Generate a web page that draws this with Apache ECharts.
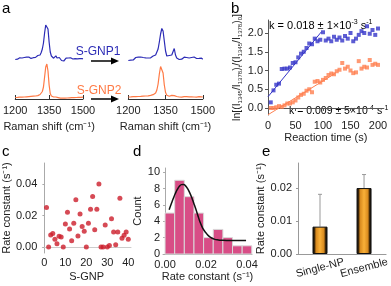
<!DOCTYPE html>
<html><head><meta charset="utf-8">
<script src="https://cdn.jsdelivr.net/npm/echarts@6/dist/echarts.min.js"></script>
<style>html,body{margin:0;padding:0;background:#fff}#c{width:391px;height:286px}</style>
</head><body><div id="c"></div>
<script>
// ---------- Panel a: Raman spectra ----------
const ramanShift = [1200,1205,1210,1215,1220,1225,1230,1235,1240,1245,1250,1255,1260,1265,1270,1275,1280,1285,1290,1295,1300,1305,1310,1315,1320,1325,1330,1335,1340,1345,1350,1355,1360,1365,1370,1375,1380,1385,1390,1395,1400,1405,1410,1415,1420,1425,1430,1435,1440,1445,1450,1455,1460,1465,1470,1475,1480,1485,1490,1495,1500];
const gnp1Before = [39.5,40.5,39.8,40.6,41.2,40.3,41.0,40.2,41.5,40.8,41.8,41.0,42.0,41.2,40.6,41.9,41.3,42.4,41.6,42.8,43.5,42.6,44.0,46.5,50.0,56.0,66.0,74.0,76.0,70.0,57.0,47.0,43.0,41.5,40.8,42.5,43.2,41.0,40.2,41.5,40.0,38.5,37.5,38.0,39.6,40.8,40.2,41.0,40.4,41.2,40.6,40.0,41.0,40.3,40.9,40.1,40.7,40.3,41.0,40.5,40.2];
const gnp2Before = [1.5,2.0,1.6,2.2,1.8,2.4,1.9,2.5,2.0,2.6,2.2,2.8,2.4,3.0,2.6,3.2,2.8,3.4,3.0,3.6,3.4,4.0,4.5,5.5,7.5,12.0,22.0,32.0,35.0,28.0,14.0,5.5,3.0,2.4,2.0,2.3,2.0,1.6,1.4,1.0,0.8,0.5,1.0,0.6,0.9,1.4,1.0,1.5,1.2,1.6,1.3,1.8,1.4,1.9,1.5,2.0,1.6,2.1,1.7,2.2,1.8];
const gnp1After = [38.5,39.5,38.8,40.2,39.0,40.5,41.5,40.2,41.8,40.5,42.0,40.8,41.5,40.0,41.2,42.5,41.0,42.0,41.2,42.5,43.0,42.2,44.0,46.0,50.0,57.0,65.0,70.5,68.0,58.0,48.0,43.0,41.0,43.5,42.0,44.0,46.0,50.5,44.0,41.0,40.0,39.5,40.5,39.8,40.8,41.8,42.5,41.5,42.2,41.0,40.5,41.5,40.8,42.0,41.2,40.5,41.8,40.6,41.5,40.8,39.8];
const gnp2After = [2.0,2.4,2.1,2.6,2.3,2.7,2.4,2.8,2.5,2.9,2.6,3.0,2.8,3.1,3.0,3.3,3.2,3.5,3.6,4.0,4.3,5.0,6.0,9.0,15.0,25.0,32.5,33.5,26.0,14.0,6.5,3.8,3.0,2.8,3.0,3.6,4.2,3.4,2.8,2.5,2.2,2.0,2.2,1.9,2.1,2.4,2.6,2.3,2.5,2.2,2.4,2.1,2.3,2.0,2.2,1.9,2.1,2.3,2.0,2.2,2.0];
const ramanTicks = [1200,1350,1500];

// ---------- Panel b: kinetics ----------
const reactionTime = [5,10,15,20,25,30,35,40,45,50,55,60,65,70,75,80,85,90,95,100,105,110,115,120,125,130,135,140,145,150,155,160,165,170,175,180,185,190,195,200];
const lnRatio1 = [0.15,0.47,0.62,0.65,1.04,1.05,1.05,1.08,1.2,1.22,1.35,1.45,1.5,1.6,1.72,1.7,1.85,1.78,1.82,2.02,1.8,1.85,1.78,1.9,1.82,1.88,1.8,1.92,1.85,2.0,1.78,1.85,1.95,2.05,2.0,2.18,1.98,2.08,1.95,2.12];
const lnRatio2 = [0.0,0.0,0.02,0.05,0.03,0.07,0.12,0.12,0.15,0.2,0.28,0.35,0.38,0.46,0.5,0.42,0.7,0.72,0.68,0.75,0.8,0.88,0.92,0.9,0.98,1.02,1.2,1.05,1.1,1.0,0.93,0.95,1.25,1.05,1.1,1.08,1.28,1.15,1.18,1.15];
const fit1 = [[0,0.30],[97,2.03]];
const fit2 = [[0,-0.18],[122,0.92]];
const timeTicks = [0,50,100,150,200];
const lnTicks = [0,0.5,1,1.5,2];

// ---------- Panel c: rate constants per S-GNP ----------
const gnpIndex = [1,2,3,4,5,6,7,8,9,10,11,12,13,14,15,16,17,18,19,20,21,22,23,24,25,26,27,28,29,30,31,32,33,34,35,36,37,38,39,40];
const rateConst = [0.025,0.0,0.0076,0.0086,0.005,0.002,0.0068,0.0064,0.0,0.0146,0.022,0.0115,0.004,0.015,0.030,0.007,0.021,0.013,0.010,0.0,0.015,0.024,0.032,0.011,0.024,0.040,0.0,0.0,0.014,0.0,0.001,0.018,0.0095,0.0015,0.0095,0.031,0.0055,0.0075,0.0095,0.005];
const gnpTicks = [0,10,20,30,40];
const rateTicksC = [0,0.02,0.04];

// ---------- Panel d: histogram ----------
const binStart = [0,0.0047,0.0094,0.0141,0.0188,0.0235,0.0282,0.0329,0.0376];
const binEnd = [0.0047,0.0094,0.0141,0.0188,0.0235,0.0282,0.0329,0.0376,0.0423];
const binCount = [5,9,7,5,2,3,2,1,1];
const fitX = [0.002,0.003,0.004,0.005,0.006,0.007,0.008,0.009,0.010,0.011,0.012,0.013,0.014,0.015,0.016,0.017,0.018,0.019,0.020,0.022,0.024,0.026,0.028,0.030,0.035,0.0395];
const fitY = [5.4,6.1,6.77,7.38,7.89,8.27,8.47,8.49,8.32,7.98,7.49,6.9,6.2,5.5,4.7,3.95,3.35,2.9,2.55,2.05,1.82,1.72,1.68,1.66,1.65,1.65];
const rateTicksD = [0,0.02,0.04];

// ---------- Panel e: comparison ----------
const methods = ['Single-NP','Ensemble'];
const methodRate = [0.0083,0.0200];
const methodErrTop = [0.0181,0.0241];
const rateTicksE = [0,0.01,0.02];

const FONT = "'Liberation Sans', Arial, sans-serif";
const BLUE = '#2c2cb6', ORANGE = '#ff7a45';
const BBLUE = '#3434c8', BORANGE = '#ff8050';
const T = {fontFamily: FONT, fontSize: 11, color: '#222'};

function specX(idx){
  return {gridIndex: idx, type:'value', min:1200, max:1500, interval:150,
    axisLine:{lineStyle:{color:'#333'}}, axisTick:{inside:true, length:4, lineStyle:{color:'#333'}},
    axisLabel:Object.assign({margin:6, customValues: ramanTicks, formatter:v=>String(v)}, T), splitLine:{show:false},
    name:'Raman shift (cm⁻¹)', nameLocation:'middle', nameGap:22, nameTextStyle:T};
}
function specY(idx){ return {gridIndex: idx, type:'value', min:0, max:79, show:false}; }
function zip(a,b){ return a.map((v,i)=>[v,b[i]]); }
function richK(size, color){
  return {
    r:{fontFamily:FONT, fontSize:size, color:color, lineHeight:size+3},
    sup:{fontFamily:FONT, fontSize:Math.round(size*0.65), color:color, lineHeight:size*0.65, verticalAlign:'top'}
  };
}

const chart = echarts.init(document.getElementById('c'), null, {renderer:'canvas'});
chart.setOption({
  backgroundColor:'#fff',
  animation:false,
  textStyle:{fontFamily: FONT},
  grid:[
    {left:8.5, top:20, width:74.5, height:79},
    {left:128.3, top:20, width:74.5, height:79},
    {left:268, top:20, width:115.5, height:95},
    {left:40, top:163, width:91, height:90},
    {left:163, top:168, width:89, height:86},
    {left:298, top:163, width:92, height:91}
  ],
  xAxis:[
    specX(0), specX(1),
    {gridIndex:2, type:'value', min:0, max:210,
      axisLine:{lineStyle:{color:'#555'}}, axisTick:{length:3, lineStyle:{color:'#555'}, customValues: timeTicks},
      axisLabel:Object.assign({margin:5, customValues: timeTicks}, T), splitLine:{show:false},
      name:'Reaction time (s)', nameLocation:'middle', nameGap:17, nameTextStyle:T},
    {gridIndex:3, type:'value', min:-1, max:41.3,
      axisLine:{lineStyle:{color:'#ccc'}}, axisTick:{show:false},
      axisLabel:Object.assign({margin:4, customValues: gnpTicks}, T), splitLine:{show:false},
      name:'S-GNP', nameLocation:'middle', nameGap:18, nameTextStyle:T},
    {gridIndex:4, type:'value', min:-0.001, max:0.0424,
      axisLine:{lineStyle:{color:'#aaa'}}, axisTick:{show:false},
      axisLabel:Object.assign({margin:5, customValues: rateTicksD, formatter:v=>v.toFixed(2)}, T), splitLine:{show:false},
      name:'Rate constant (s⁻¹)', nameLocation:'middle', nameGap:17, nameTextStyle:T},
    {gridIndex:5, type:'category', data: methods,
      axisLine:{lineStyle:{color:'#999'}}, axisTick:{show:false},
      axisLabel:Object.assign({margin:14, rotate:15, align:'center', verticalAlign:'middle', interval:0}, T)}
  ],
  yAxis:[
    specY(0), specY(1),
    {gridIndex:2, type:'value', min:-0.187, max:2.347,
      axisLine:{show:true, lineStyle:{color:'#555'}}, axisTick:{show:true, length:3, lineStyle:{color:'#555'}, customValues: lnTicks},
      axisLabel:Object.assign({margin:5, customValues: lnTicks, formatter:v=>v.toFixed(1)}, T), splitLine:{show:false},
      name:'{r|ln[(I}{sub|1345}{r|/I}{sub|1378}{r|)}{sub|t}{r|/(I}{sub|1345}{r|/I}{sub|1378}{r|)}{sub|0}{r|]}',
      nameLocation:'middle', nameGap:22,
      nameTextStyle:{rich:{
        r:{fontFamily:FONT, fontSize:10.5, color:'#222', lineHeight:13},
        sub:{fontFamily:FONT, fontSize:6, color:'#222', lineHeight:7, verticalAlign:'bottom'}}}},
    {gridIndex:3, type:'value', min:-0.0038, max:0.0533,
      axisLine:{show:true, lineStyle:{color:'#aaa'}}, axisTick:{show:true, length:2, lineStyle:{color:'#aaa'}, customValues: rateTicksC},
      axisLabel:Object.assign({margin:5, customValues: rateTicksC, formatter:v=>v.toFixed(2)}, T), splitLine:{show:false},
      name:'Rate constant (s⁻¹)', nameLocation:'middle', nameGap:17, nameTextStyle:T},
    {gridIndex:4, type:'value', min:0, max:10.5, interval:2,
      axisLine:{show:true, lineStyle:{color:'#aaa'}}, axisTick:{show:true, length:2, lineStyle:{color:'#aaa'}},
      axisLabel:Object.assign({margin:3, showMaxLabel:false}, T), splitLine:{show:false},
      name:'Count', nameLocation:'middle', nameGap:15, nameTextStyle:T},
    {gridIndex:5, type:'value', min:0, max:0.0276,
      axisLine:{show:true, lineStyle:{color:'#999'}}, axisTick:{show:true, length:2, lineStyle:{color:'#999'}, customValues: rateTicksE},
      axisLabel:Object.assign({margin:6, customValues: rateTicksE, formatter:v=>v.toFixed(2)}, T), splitLine:{show:false},
      name:'Rate constant (s⁻¹)', nameLocation:'middle', nameGap:21, nameTextStyle:T}
  ],
  series:[
    {type:'line', xAxisIndex:0, yAxisIndex:0, data:zip(ramanShift,gnp1Before), showSymbol:false, lineStyle:{color:BLUE,width:1.2}},
    {type:'line', xAxisIndex:0, yAxisIndex:0, data:zip(ramanShift,gnp2Before), showSymbol:false, lineStyle:{color:ORANGE,width:1.2}},
    {type:'line', xAxisIndex:1, yAxisIndex:1, data:zip(ramanShift,gnp1After), showSymbol:false, lineStyle:{color:BLUE,width:1.2}},
    {type:'line', xAxisIndex:1, yAxisIndex:1, data:zip(ramanShift,gnp2After), showSymbol:false, lineStyle:{color:ORANGE,width:1.2}},
    {type:'scatter', xAxisIndex:2, yAxisIndex:2, data:zip(reactionTime,lnRatio1), symbol:'rect', symbolSize:4, itemStyle:{color:BBLUE}},
    {type:'scatter', xAxisIndex:2, yAxisIndex:2, data:zip(reactionTime,lnRatio2), symbol:'rect', symbolSize:4, itemStyle:{color:BORANGE}},
    {type:'line', xAxisIndex:2, yAxisIndex:2, data:fit1, showSymbol:false, lineStyle:{color:BBLUE,width:1}},
    {type:'line', xAxisIndex:2, yAxisIndex:2, data:fit2, showSymbol:false, lineStyle:{color:BORANGE,width:1}},
    {type:'scatter', xAxisIndex:3, yAxisIndex:3, data:zip(gnpIndex,rateConst), symbolSize:5, itemStyle:{color:'#cc1d2b'}},
    {type:'custom', xAxisIndex:4, yAxisIndex:4,
      data: binStart.map((s,i)=>[s,binEnd[i],binCount[i]]),
      renderItem:(params,api)=>{
        const p0 = api.coord([api.value(0), api.value(2)]);
        const p1 = api.coord([api.value(1), 0]);
        return {type:'rect', shape:{x:p0[0], y:p0[1], width:p1[0]-p0[0], height:p1[1]-p0[1]},
          style:{fill:'#d84d86', stroke:'#d9d9d9', lineWidth:1}};
      }},
    {type:'line', xAxisIndex:4, yAxisIndex:4, data:zip(fitX,fitY), smooth:true, showSymbol:false, lineStyle:{color:'#111',width:1.5}},
    {type:'bar', xAxisIndex:5, yAxisIndex:5, data:methodRate, barWidth:15,
      itemStyle:{borderColor:'#111', borderWidth:1,
        color:new echarts.graphic.LinearGradient(0,0,1,0,[
          {offset:0,color:'#111'},{offset:0.12,color:'#2a1a05'},{offset:0.24,color:'#d88a1e'},
          {offset:0.5,color:'#f9b038'},{offset:0.76,color:'#d88a1e'},{offset:0.88,color:'#2a1a05'},{offset:1,color:'#111'}])}},
    {type:'custom', xAxisIndex:5, yAxisIndex:5, z:1,
      data: methodRate.map((v,i)=>[i,v,methodErrTop[i]]),
      renderItem:(params,api)=>{
        const p0 = api.coord([api.value(0), api.value(1)]);
        const p1 = api.coord([api.value(0), api.value(2)]);
        return {type:'group', children:[
          {type:'line', shape:{x1:p0[0],y1:p0[1],x2:p1[0],y2:p1[1]}, style:{stroke:'#999',lineWidth:1}},
          {type:'line', shape:{x1:p1[0]-2,y1:p1[1],x2:p1[0]+2,y2:p1[1]}, style:{stroke:'#999',lineWidth:1}}
        ]};
      }}
  ],
  graphic:[
    {type:'text', left:2, top:1, style:{text:'a', font:"15px "+FONT, fill:'#000'}},
    {type:'text', left:231, top:1, style:{text:'b', font:"15px "+FONT, fill:'#000'}},
    {type:'text', left:2, top:144, style:{text:'c', font:"15px "+FONT, fill:'#000'}},
    {type:'text', left:133, top:144, style:{text:'d', font:"15px "+FONT, fill:'#000'}},
    {type:'text', left:262, top:144, style:{text:'e', font:"15px "+FONT, fill:'#000'}},
    {type:'text', x:98, y:52, style:{text:'S-GNP1', font:"12px "+FONT, fill:BLUE, align:'center', verticalAlign:'middle'}},
    {type:'text', x:99, y:91, style:{text:'S-GNP2', font:"12px "+FONT, fill:ORANGE, align:'center', verticalAlign:'middle'}},
    {type:'line', shape:{x1:91,y1:61,x2:112,y2:61}, style:{stroke:'#000',lineWidth:1.5}},
    {type:'polygon', shape:{points:[[111,57.5],[119,61],[111,64.5]]}, style:{fill:'#000'}},
    {type:'line', shape:{x1:91,y1:99,x2:112,y2:99}, style:{stroke:'#000',lineWidth:1.5}},
    {type:'polygon', shape:{points:[[111,95.5],[119,99],[111,102.5]]}, style:{fill:'#000'}},
    {type:'text', x:269, y:26, style:{text:'{r|k = 0.018 ± 1×10}{sup|-3}{r| s}{sup|-1}', rich:richK(11,BBLUE), verticalAlign:'middle'}},
    {type:'text', x:289, y:111, style:{text:'{r|k = 0.009 ± 5×10}{sup|-4}{r| s}{sup|-1}', rich:richK(10.5,BORANGE), verticalAlign:'middle'}}
  ]
});
</script></body></html>
